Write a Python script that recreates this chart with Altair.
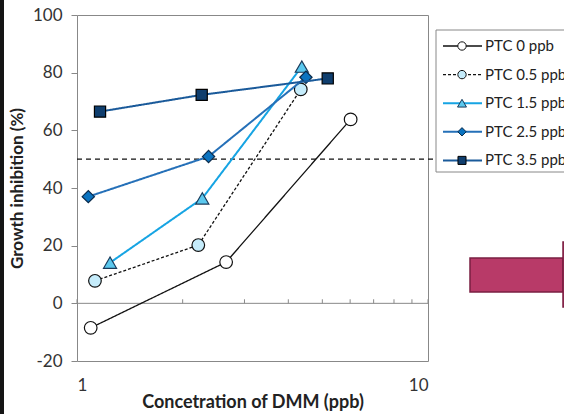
import altair as alt
import pandas as pd

# ---- data ----
series = ["PTC 0 ppb", "PTC 0.5 ppb", "PTC 1.5 ppb", "PTC 2.5 ppb", "PTC 3.5 ppb"]
dmm_ptc0 = [1.094, 2.66, 6.02]
inh_ptc0 = [-8.5, 14.3, 63.8]
dmm_ptc05 = [1.125, 2.216, 4.34]
inh_ptc05 = [7.8, 20.2, 74.2]
dmm_ptc15 = [1.242, 2.275, 4.37]
inh_ptc15 = [14.1, 36.4, 82.1]
dmm_ptc25 = [1.077, 2.37, 4.49]
inh_ptc25 = [37.0, 50.9, 78.4]
dmm_ptc35 = [1.163, 2.266, 5.18]
inh_ptc35 = [66.5, 72.3, 78.0]
xs = [dmm_ptc0, dmm_ptc05, dmm_ptc15, dmm_ptc25, dmm_ptc35]
ys = [inh_ptc0, inh_ptc05, inh_ptc15, inh_ptc25, inh_ptc35]
y_ticks = [-20, 0, 20, 40, 60, 80, 100]
x_labels = [1, 10]
minor_ticks = [1, 2, 3, 4, 5, 6, 7, 8, 9, 10]
threshold = 50

# ---- styles ----
styles = {
    "PTC 0 ppb": dict(line="#111111", lw=1.3, dash=[1, 0], shape="circle", fill="#ffffff", stroke="#111111", size=160, lsize=70),
    "PTC 0.5 ppb": dict(line="#111111", lw=1.3, dash=[3, 2], shape="circle", fill="#c5ecfb", stroke="#111111", size=160, lsize=70),
    "PTC 1.5 ppb": dict(line="#16a4e3", lw=2.0, dash=[1, 0], shape="triangle-up", fill="#5bc8ee", stroke="#1a3a5a", size=170, lsize=80),
    "PTC 2.5 ppb": dict(line="#2570b8", lw=2.0, dash=[1, 0], shape="diamond", fill="#0b73c0", stroke="#0a2a4a", size=150, lsize=70),
    "PTC 3.5 ppb": dict(line="#1a5a9a", lw=2.0, dash=[1, 0], shape="square", fill="#0f3e6e", stroke="#000000", size=125, lsize=65),
}

FONT = "Lato"
W, H = 351, 346
xscale = alt.Scale(type="log", domain=[1, 10])
yscale = alt.Scale(domain=[-20, 100], nice=False, zero=False)
one = alt.Data(values=[{}])

layers = []

# base layer with axes
axis_df = pd.DataFrame({"x": [1, 10], "y": [-20, 100]})
base = alt.Chart(axis_df).mark_point(opacity=0).encode(
    x=alt.X("x:Q", scale=xscale,
            axis=alt.Axis(values=x_labels, labelExpr="datum.value + ''", domain=False, ticks=False, grid=False,
                          labelFont=FONT, labelFontSize=17, labelColor="#333333", labelPadding=16,
                          title="Concetration of DMM (ppb)", titleFont=FONT, titleFontSize=18,
                          titleFontWeight="bold", titleColor="#222222", titlePadding=0)),
    y=alt.Y("y:Q", scale=yscale,
            axis=alt.Axis(values=y_ticks, labelExpr="datum.value + ''", domain=False, grid=False,
                          tickColor="#888888", tickSize=6,
                          labelFont=FONT, labelFontSize=17, labelColor="#333333", labelPadding=9,
                          title="Growth inhibition (%)", titleFont=FONT, titleFontSize=17,
                          titleFontWeight="bold", titleColor="#222222", titlePadding=6)),
)
layers.append(base)

# zero line with minor ticks
layers.append(alt.Chart(one).mark_rule(color="#888888", strokeWidth=1).encode(
    x=alt.value(0), x2=alt.value(W), y=alt.datum(0, scale=yscale)))
tick_df = pd.DataFrame({"v": minor_ticks})
layers.append(alt.Chart(tick_df).mark_rule(color="#888888", strokeWidth=1).encode(
    x=alt.X("v:Q", scale=xscale), y=alt.datum(0), y2=alt.datum(1.4)))

# dashed 50% line
layers.append(alt.Chart(one).mark_rule(color="#111111", strokeWidth=1.3, strokeDash=[5, 4]).encode(
    x=alt.value(0), x2=alt.value(359), y=alt.datum(threshold, scale=yscale)))

# series
for name, xv, yv in zip(series, xs, ys):
    st = styles[name]
    df = pd.DataFrame({"dmm": xv, "inh": yv})
    enc = dict(x=alt.X("dmm:Q", scale=xscale), y=alt.Y("inh:Q", scale=yscale))
    layers.append(alt.Chart(df).mark_line(color=st["line"], strokeWidth=st["lw"], strokeDash=st["dash"]).encode(**enc))
    layers.append(alt.Chart(df).mark_point(shape=st["shape"], filled=True, fill=st["fill"], stroke=st["stroke"],
                                           strokeWidth=1.2, size=st["size"], opacity=1).encode(**enc))

# legend box
LX, LY = 359, 15
layers.append(alt.Chart(one).mark_rect(fill="#ffffff", stroke="#888888", strokeWidth=1).encode(
    x=alt.value(LX), x2=alt.value(520), y=alt.value(LY), y2=alt.value(157)))
for i, name in enumerate(series):
    st = styles[name]
    yy = 31 + i * 28.6
    layers.append(alt.Chart(one).mark_rule(color=st["line"], strokeWidth=st["lw"], strokeDash=st["dash"]).encode(
        x=alt.value(366), x2=alt.value(405), y=alt.value(yy)))
    layers.append(alt.Chart(one).mark_point(shape=st["shape"], filled=True, fill=st["fill"], stroke=st["stroke"],
                                            strokeWidth=1, size=st["lsize"], opacity=1).encode(
        x=alt.value(385), y=alt.value(yy)))
    layers.append(alt.Chart(one).mark_text(align="left", baseline="middle", font=FONT, fontSize=15,
                                           color="#222222").encode(
        x=alt.value(408), y=alt.value(yy), text=alt.value(name)))

# decorative arrow on the right
layers.append(alt.Chart(one).mark_rect(fill="#b83a68", stroke="#7a1f42", strokeWidth=1.5).encode(
    x=alt.value(393), x2=alt.value(486), y=alt.value(243), y2=alt.value(277)))
layers.append(alt.Chart(one).mark_rect(fill="#b83a68", stroke="#7a1f42", strokeWidth=1.5).encode(
    x=alt.value(486), x2=alt.value(500), y=alt.value(227), y2=alt.value(292)))

# dark strip at left edge
layers.append(alt.Chart(one).mark_rect(fill="#151515").encode(
    x=alt.value(-77), x2=alt.value(-73), y=alt.value(-15), y2=alt.value(399)))

chart = alt.layer(*layers).properties(
    width=W, height=H,
    autosize=alt.AutoSizeParams(type="none"),
    padding={"left": 77, "top": 15, "right": 136, "bottom": 53},
    background="#ffffff",
).configure_view(stroke="#888888", strokeWidth=1)

chart.save("out.html", embed_options={"renderer": "svg", "actions": False})
